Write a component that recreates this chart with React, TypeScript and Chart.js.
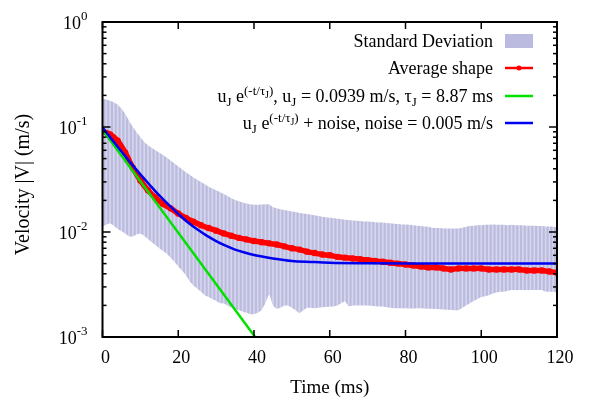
import { useEffect, useRef } from "react";
import { Chart, registerables } from "chart.js";

Chart.register(...registerables);

// ---- data ----
// Standard deviation band, one value per ms (0..120 ms)
const bandUpper = [
  0.187, 0.183, 0.178, 0.172, 0.163, 0.150, 0.133, 0.115, 0.100, 0.089,
  0.080, 0.072, 0.067, 0.063, 0.060, 0.057, 0.054, 0.051, 0.048, 0.045,
  0.042, 0.0395, 0.037, 0.035, 0.033, 0.0315, 0.030, 0.0285, 0.027, 0.026,
  0.025, 0.024, 0.023, 0.022, 0.021, 0.0202, 0.0196, 0.0191, 0.0187, 0.0184,
  0.0182, 0.0182, 0.0183, 0.0184, 0.0184, 0.0172, 0.0168, 0.0165, 0.0162, 0.0159,
  0.0157, 0.0155, 0.0152, 0.0150, 0.0148, 0.0146, 0.0144, 0.0142, 0.0140, 0.0138,
  0.0137, 0.0136, 0.0134, 0.0133, 0.0131, 0.0130, 0.0129, 0.0128, 0.0127, 0.0126,
  0.0126, 0.0125, 0.0124, 0.0123, 0.0123, 0.0122, 0.0121, 0.0120, 0.0119, 0.0118,
  0.0118, 0.0117, 0.0116, 0.0115, 0.0114, 0.0113, 0.0112, 0.0110, 0.0109, 0.0109,
  0.0108, 0.0108, 0.0108, 0.0108, 0.0108, 0.0110, 0.0112, 0.0114, 0.0115, 0.0116,
  0.0116, 0.0117, 0.0117, 0.0118, 0.0117, 0.0117, 0.0117, 0.0116, 0.0117, 0.0116,
  0.0116, 0.0116, 0.0115, 0.0115, 0.0115, 0.0114, 0.0114, 0.0113, 0.0113, 0.0112,
  0.0111,
];
const bandLower = [
  0.0112, 0.0118, 0.0121, 0.0115, 0.0107, 0.0102, 0.0096, 0.0091, 0.0090, 0.0095,
  0.0097, 0.0092, 0.0086, 0.0080, 0.0075, 0.0070, 0.0066, 0.0062, 0.0057, 0.0052,
  0.0047, 0.0043, 0.0039, 0.0034, 0.0031, 0.0029, 0.0027, 0.0025, 0.0024, 0.0023,
  0.0022, 0.0021, 0.0021, 0.0020, 0.0019, 0.00185, 0.0018, 0.00175, 0.0017, 0.00165,
  0.00165, 0.0017, 0.0018, 0.0021, 0.0026, 0.0020, 0.00185, 0.0019, 0.0020, 0.0020,
  0.0019, 0.0018, 0.00168, 0.0018, 0.0019, 0.0019, 0.00188, 0.0019, 0.00192, 0.00193,
  0.00194, 0.00195, 0.0020, 0.0021, 0.0022, 0.00195, 0.0020, 0.0020, 0.0020, 0.0020,
  0.0020, 0.00198, 0.00196, 0.00195, 0.00195, 0.00192, 0.0019, 0.00188, 0.00188, 0.00188,
  0.00188, 0.00187, 0.00187, 0.00188, 0.00188, 0.00187, 0.00186, 0.00186, 0.00185, 0.00184,
  0.00183, 0.00182, 0.00181, 0.0018, 0.0018, 0.0019, 0.0020, 0.0021, 0.0022, 0.0023,
  0.0024, 0.00245, 0.0025, 0.0026, 0.00265, 0.0027, 0.0027, 0.00275, 0.0028, 0.0028,
  0.0028, 0.0028, 0.0028, 0.0028, 0.0028, 0.0028, 0.0028, 0.0027, 0.0027, 0.0027,
  0.00265,
];
const bandStepMs = 1;

// Average shape, one value every 2 ms (0..120 ms)
const avgValues = [
  0.091, 0.085, 0.074, 0.057, 0.041, 0.031, 0.025, 0.0212, 0.0185, 0.0168,
  0.0150, 0.0136, 0.0125, 0.0116, 0.0109, 0.0103, 0.0097, 0.0092, 0.0088, 0.0085,
  0.0082, 0.0080, 0.0078, 0.0076, 0.0073, 0.0070, 0.0068, 0.0065, 0.0063, 0.0061,
  0.0060, 0.0058, 0.0057, 0.0056, 0.0055, 0.0054, 0.0053, 0.0052, 0.0051, 0.0050,
  0.0049, 0.0048, 0.0047, 0.0046, 0.0046, 0.0045, 0.0044, 0.0045, 0.0045, 0.0045,
  0.0045, 0.0044, 0.0044, 0.0044, 0.0044, 0.0044, 0.0043, 0.0043, 0.0043, 0.0042,
  0.0041,
];
const avgStepMs = 2;

// Fit: u_J exp(-t/tau_J)
const expTimes = [0, 40.3];
const expValues = [0.0939, 0.001];

// Fit + noise
const noiseTimes = [0, 2.5, 5, 7.5, 10, 12.5, 15, 17.5, 20, 22.5, 25, 27.5, 30, 32.5, 35, 37.5, 40, 45, 50, 55, 60, 70, 80, 120];
const noiseValues = [
  0.0989, 0.0758, 0.0584, 0.0453, 0.0354, 0.0280, 0.0223, 0.0181, 0.0149, 0.0124,
  0.0106, 0.00923, 0.0082, 0.00741, 0.0068, 0.00637, 0.00603, 0.0056, 0.0053, 0.00519,
  0.0051, 0.00504, 0.00501, 0.005,
];

const xTicks = [0, 20, 40, 60, 80, 100, 120];
const yDecades = [-3, -2, -1, 0];

const FONT = "'Liberation Serif', 'Times New Roman', serif";
const BAND_COLOR = "rgb(187,187,223)";
const STRIPE_COLOR = "rgba(255,255,255,0.4)";
const RED = "rgb(255,0,0)";
const GREEN = "rgb(0,225,0)";
const BLUE = "rgb(0,0,240)";

type Seg = { t: string; m: "n" | "sub" | "sup" | "ssub" };

const segStyle = {
  n: { size: 18, dy: 0 },
  sub: { size: 13, dy: 4 },
  sup: { size: 13, dy: -7 },
  ssub: { size: 10, dy: -4 },
};

function drawRich(ctx: CanvasRenderingContext2D, segs: Seg[], xRight: number, yBase: number) {
  let total = 0;
  const widths = segs.map((s) => {
    ctx.font = `${segStyle[s.m].size}px ${FONT}`;
    const w = ctx.measureText(s.t).width;
    total += w;
    return w;
  });
  let x = xRight - total;
  ctx.textAlign = "left";
  ctx.textBaseline = "alphabetic";
  segs.forEach((s, i) => {
    ctx.font = `${segStyle[s.m].size}px ${FONT}`;
    ctx.fillText(s.t, x, yBase + segStyle[s.m].dy);
    x += widths[i];
  });
}

const legendRows: Seg[][] = [
  [{ t: "Standard Deviation", m: "n" }],
  [{ t: "Average shape", m: "n" }],
  [
    { t: "u", m: "n" }, { t: "J", m: "sub" }, { t: " e", m: "n" },
    { t: "(-t/τ", m: "sup" }, { t: "J", m: "ssub" }, { t: ")", m: "sup" },
    { t: ", u", m: "n" }, { t: "J", m: "sub" }, { t: " = 0.0939 m/s, τ", m: "n" },
    { t: "J", m: "sub" }, { t: " = 8.87 ms", m: "n" },
  ],
  [
    { t: "u", m: "n" }, { t: "J", m: "sub" }, { t: " e", m: "n" },
    { t: "(-t/τ", m: "sup" }, { t: "J", m: "ssub" }, { t: ")", m: "sup" },
    { t: " + noise, noise = 0.005 m/s", m: "n" },
  ],
];

const decorPlugin = {
  id: "decor",
  afterDraw(chart: any) {
    const ctx: CanvasRenderingContext2D = chart.ctx;
    const { left, right, top, bottom } = chart.chartArea;
    const xs = chart.scales.x;
    const ys = chart.scales.y;
    ctx.save();
    ctx.strokeStyle = "#000";
    ctx.fillStyle = "#000";
    const seg = (x1: number, y1: number, x2: number, y2: number) => {
      ctx.beginPath();
      ctx.moveTo(x1, y1);
      ctx.lineTo(x2, y2);
      ctx.stroke();
    };
    ctx.lineWidth = 1.5;
    xTicks.forEach((v) => {
      const px = xs.getPixelForValue(v);
      seg(px, bottom, px, bottom - 7);
      seg(px, top, px, top + 7);
    });
    yDecades.forEach((d) => {
      for (let m = 1; m <= 9; m++) {
        const val = m * Math.pow(10, d);
        if (val > 1.0000001) break;
        const py = ys.getPixelForValue(val);
        const len = m === 1 ? 8 : 4;
        seg(left, py, left + len, py);
        seg(right, py, right - len, py);
      }
    });
    ctx.lineWidth = 2;
    ctx.strokeRect(left, top, right - left, bottom - top);

    // y tick labels
    yDecades.forEach((d) => {
      const py = ys.getPixelForValue(Math.pow(10, d));
      const sup = d === 0 ? "0" : `-${-d}`;
      ctx.font = `13px ${FONT}`;
      const supW = ctx.measureText(sup).width;
      ctx.font = `18px ${FONT}`;
      const baseW = ctx.measureText("10").width;
      const x0 = left - 15 - supW - baseW;
      ctx.textAlign = "left";
      ctx.textBaseline = "alphabetic";
      ctx.fillText("10", x0, py + 7);
      ctx.font = `13px ${FONT}`;
      ctx.fillText(sup, x0 + baseW, py - 2);
    });

    // x tick labels
    ctx.font = `18px ${FONT}`;
    ctx.textAlign = "center";
    ctx.textBaseline = "alphabetic";
    xTicks.forEach((v) => {
      ctx.fillText(String(v), xs.getPixelForValue(v) + 3, bottom + 26);
    });

    // axis titles
    ctx.font = `19px ${FONT}`;
    ctx.fillText("Time (ms)", (left + right) / 2, bottom + 56);
    ctx.save();
    ctx.font = `20px ${FONT}`;
    ctx.translate(24, (top + bottom) / 2 + 5);
    ctx.rotate(-Math.PI / 2);
    ctx.textBaseline = "middle";
    ctx.fillText("Velocity |V| (m/s)", 0, 0);
    ctx.restore();

    // legend
    const textRight = right - 64;
    const sx1 = right - 52;
    const sx2 = right - 24;
    const rowY = [top + 19, top + 46, top + 74, top + 101];
    legendRows.forEach((segs, i) => {
      ctx.fillStyle = "#000";
      drawRich(ctx, segs, textRight, rowY[i] + 6);
    });
    ctx.fillStyle = BAND_COLOR;
    ctx.fillRect(sx1, rowY[0] - 7, sx2 - sx1, 14);
    ctx.lineWidth = 2.5;
    ctx.strokeStyle = RED;
    seg(sx1, rowY[1], sx2, rowY[1]);
    ctx.fillStyle = RED;
    ctx.beginPath();
    ctx.arc((sx1 + sx2) / 2, rowY[1], 2.5, 0, Math.PI * 2);
    ctx.fill();
    ctx.strokeStyle = GREEN;
    seg(sx1, rowY[2], sx2, rowY[2]);
    ctx.strokeStyle = BLUE;
    seg(sx1, rowY[3], sx2, rowY[3]);
    ctx.restore();
  },
};

export default function App() {
  const ref = useRef<HTMLCanvasElement | null>(null);
  useEffect(() => {
    if (!ref.current) return;
    const lower = bandLower.map((v, i) => ({ x: i * bandStepMs, y: v }));
    const upper = bandUpper.map((v, i) => ({ x: i * bandStepMs, y: v }));
    const stripes = bandUpper.map((u, i) => ({ x: i * bandStepMs, y: [bandLower[i], u] }));
    const avg = avgValues.map((v, i) => ({ x: i * avgStepMs, y: v }));
    const fit = expTimes.map((t, i) => ({ x: t, y: expValues[i] }));
    const noise = noiseTimes.map((t, i) => ({ x: t, y: noiseValues[i] }));
    const chart = new Chart(ref.current, {
      type: "line",
      data: {
        datasets: [
          {
            type: "line",
            label: "band lower",
            data: lower as any,
            borderWidth: 0,
            borderColor: "rgba(0,0,0,0)",
            pointRadius: 0,
            fill: false,
            order: 6,
          },
          {
            type: "line",
            label: "Standard Deviation",
            data: upper as any,
            borderWidth: 0,
            borderColor: "rgba(0,0,0,0)",
            backgroundColor: BAND_COLOR,
            pointRadius: 0,
            fill: "-1",
            order: 5,
          },
          {
            type: "bar",
            label: "stripes",
            data: stripes as any,
            backgroundColor: STRIPE_COLOR,
            borderWidth: 0,
            barThickness: 1,
            order: 4,
          },
          {
            type: "line",
            label: "Average shape",
            data: avg as any,
            borderColor: RED,
            backgroundColor: RED,
            borderWidth: 5.5,
            pointRadius: 3.2,
            pointBorderWidth: 0,
            tension: 0.3,
            order: 2,
          },
          {
            type: "line",
            label: "fit",
            data: fit as any,
            borderColor: GREEN,
            borderWidth: 2.5,
            pointRadius: 0,
            order: 1,
          },
          {
            type: "line",
            label: "fit+noise",
            data: noise as any,
            borderColor: BLUE,
            borderWidth: 2.5,
            pointRadius: 0,
            cubicInterpolationMode: "monotone",
            order: 0,
          },
        ] as any,
      },
      options: {
        animation: false,
        responsive: false,
        devicePixelRatio: 1,
        layout: { padding: { left: 102.5, right: 43, top: 22, bottom: 73 } },
        plugins: { legend: { display: false }, tooltip: { enabled: false } },
        scales: {
          x: { type: "linear", min: 0, max: 120, offset: false, display: false },
          y: { type: "logarithmic", min: 0.001, max: 1, display: false },
        },
      } as any,
      plugins: [decorPlugin],
    });
    return () => chart.destroy();
  }, []);
  return (
    <div style={{ position: "absolute", left: 0, top: 0, width: 600, height: 410, background: "#fff" }}>
      <canvas ref={ref} width={600} height={410} style={{ width: 600, height: 410 }} />
    </div>
  );
}
